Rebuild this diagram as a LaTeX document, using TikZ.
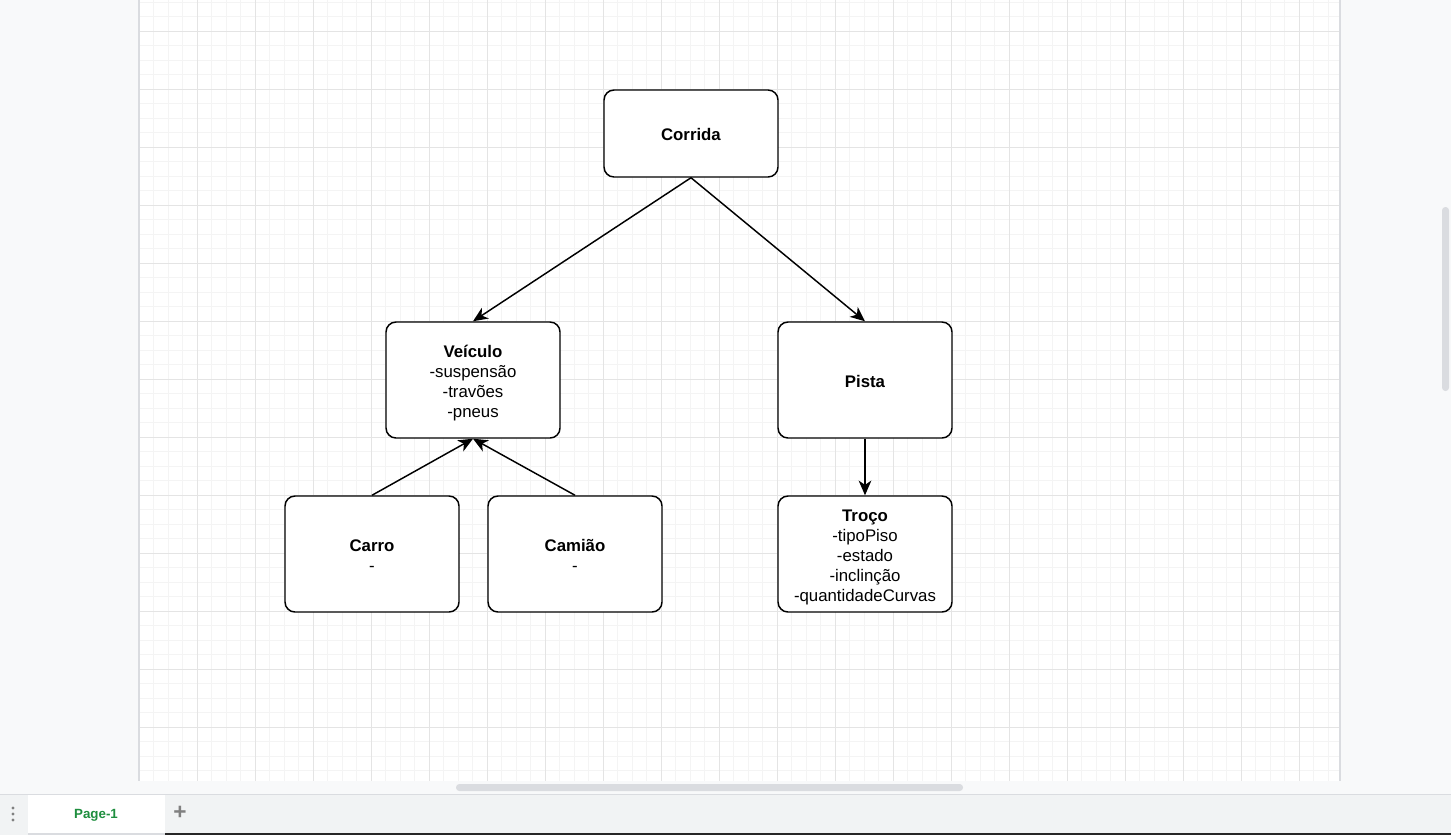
\documentclass[tikz,border=0pt]{standalone}
\usepackage{fontspec}
\setmainfont{Liberation Sans}
\usetikzlibrary{arrows.meta}
\definecolor{chrome}{HTML}{F8F9FA}
\definecolor{tabbar}{HTML}{F1F3F4}
\definecolor{thumb}{HTML}{DADCE0}
\definecolor{gridmin}{HTML}{F4F4F4}
\definecolor{gridmaj}{HTML}{E4E4E4}
\definecolor{tabgreen}{HTML}{1E8E3E}
% centred lines of a class box, drawn a little below the box centre
\newcommand\clslines[1]{\raisebox{-2.25pt}[\height][\depth]{\begin{tabular}{@{}c@{}}#1\end{tabular}}}
\tikzset{
  classbox/.style={draw=black, line width=1.1pt, rounded corners=7.5pt, fill=white,
    minimum width=130.5pt, minimum height=87pt,
    font=\fontsize{12.6pt}{15pt}\selectfont, inner sep=0pt},
  topbox/.style={classbox, minimum height=65.25pt},
  link/.style={line width=1.1pt, -{Stealth[length=11pt, width=9.5pt, inset=3.2pt]}},
}
\begin{document}
\begin{tikzpicture}[x=0.75pt, y=-0.75pt]
\useasboundingbox (0,0) rectangle (1451,835);
% canvas surroundings
\fill[chrome] (0,0) rectangle (1451,835);
\fill[white] (139,0) rectangle (1339,781);
% grid
\begin{scope}
\clip (139,0) rectangle (1339,781);
\foreach \k in {0,...,82} \draw[gridmin, line width=0.75pt] ({139+14.5*\k},0) -- ({139+14.5*\k},781);
\foreach \k in {0,...,53} \draw[gridmin, line width=0.75pt] (139,{2+14.5*\k}) -- (1339,{2+14.5*\k});
\foreach \k in {0,...,20} \draw[gridmaj, line width=0.75pt] ({139+58*\k},0) -- ({139+58*\k},781);
\foreach \k in {0,...,12} \draw[gridmaj, line width=0.75pt] (139,{31+58*\k}) -- (1339,{31+58*\k});
\end{scope}
\draw[thumb, line width=1.5pt] (138.5,0) -- (138.5,781);
\draw[thumb, line width=1.5pt] (1340,0) -- (1340,781);
% scroll bars
\fill[thumb, rounded corners=2.5pt] (456,784) rectangle (963,791);
\fill[thumb, rounded corners=2.5pt] (1442,207) rectangle (1449,391);
% page tabs
\fill[tabbar] (0,795) rectangle (1451,835);
\draw[thumb, line width=0.75pt] (0,794.5) -- (1451,794.5);
\fill[white] (28,795) rectangle (165,833);
\fill[thumb] (28,833) rectangle (165,835);
\fill[black!85] (165,833) rectangle (1451,835);
\node[font=\bfseries\fontsize{10pt}{12pt}\selectfont, text=tabgreen] (tab) at (96,815) {Page-1};
\foreach \yy in {808,814,820} \fill[gray] (13,\yy) circle (1.6);
\node[font=\bfseries\fontsize{17pt}{17pt}\selectfont, text=gray] (add) at (180,813) {+};
% class boxes
\node[topbox] (corrida) at (691,133.5) {\clslines{\textbf{Corrida}}};
\node[classbox] (veiculo) at (473,380) {\clslines{\textbf{Veículo}\\-suspensão\\-travões\\-pneus}};
\node[classbox] (pista) at (865,380) {\clslines{\textbf{Pista}}};
\node[classbox] (carro) at (372,554) {\clslines{\textbf{Carro}\\-}};
\node[classbox] (camiao) at (575,554) {\clslines{\textbf{Camião}\\-}};
\node[classbox] (troco) at (865,554) {\clslines{\textbf{Troço}\\-tipoPiso\\-estado\\-inclinção\\-quantidadeCurvas}};
% associations
\draw[link] (corrida.south) -- (veiculo.north);
\draw[link] (corrida.south) -- (pista.north);
\draw[link] (pista.south) -- (troco.north);
\draw[link] (carro.north) -- (veiculo.south);
\draw[link] (camiao.north) -- (veiculo.south);
\end{tikzpicture}
\end{document}
